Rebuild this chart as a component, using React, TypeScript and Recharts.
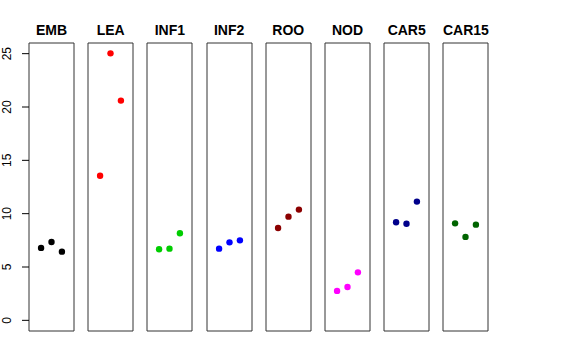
import { ScatterChart, Scatter, XAxis, YAxis, ReferenceArea } from "recharts";

const groups = ["EMB", "LEA", "INF1", "INF2", "ROO", "NOD", "CAR5", "CAR15"];
const colors = ["#000000", "#FF0000", "#00CD00", "#0000FF", "#8B0000", "#FF00FF", "#00008B", "#006400"];

const emb = [6.79, 7.35, 6.44];
const lea = [13.56, 25.03, 20.6];
const inf1 = [6.66, 6.72, 8.16];
const inf2 = [6.72, 7.31, 7.5];
const roo = [8.66, 9.72, 10.38];
const nod = [2.76, 3.13, 4.5];
const car5 = [9.19, 9.06, 11.13];
const car15 = [9.09, 7.82, 8.97];

const values = [emb, lea, inf1, inf2, roo, nod, car5, car15];
const yTicks = [0, 5, 10, 15, 20, 25];

const X_DOMAIN: [number, number] = [-0.16, 4.16];
const Y_DOMAIN: [number, number] = [-1, 26];
const PANEL_W = 45;
const AXIS_W = 29;
const STEP = 59.2;
const FONT = "'Liberation Sans', Arial, Helvetica, sans-serif";

function YTick(props: any) {
  const { y, payload } = props;
  return (
    <text
      x={12}
      y={y}
      transform={`rotate(-90, 12, ${y})`}
      textAnchor="middle"
      fontSize={12}
      fontFamily={FONT}
      fill="#000"
    >
      {payload.value}
    </text>
  );
}

function Panel({ idx }: { idx: number }) {
  const first = idx === 0;
  const data = values[idx].map((v, i) => ({ x: i + 1, y: v }));
  const left = first ? -1 : AXIS_W - 1 + idx * STEP;
  const width = PANEL_W + 2 + (first ? AXIS_W : 0);
  return (
    <div style={{ position: "absolute", left, top: 42 }}>
      <ScatterChart width={width} height={290} margin={{ top: 1, right: 1, bottom: 1, left: 1 }}>
        <XAxis type="number" dataKey="x" domain={X_DOMAIN} hide allowDataOverflow />
        <YAxis
          type="number"
          dataKey="y"
          domain={Y_DOMAIN}
          ticks={yTicks}
          hide={!first}
          width={AXIS_W}
          axisLine={false}
          tickSize={7}
          tickLine={{ stroke: "#000" }}
          tick={<YTick />}
          allowDataOverflow
        />
        <ReferenceArea
          x1={X_DOMAIN[0]}
          x2={X_DOMAIN[1]}
          y1={Y_DOMAIN[0]}
          y2={Y_DOMAIN[1]}
          fill="none"
          stroke="#333"
          strokeWidth={1}
          fillOpacity={0}
          ifOverflow="visible"
        />
        <Scatter
          data={data}
          isAnimationActive={false}
          shape={(p: any) => <circle cx={p.cx} cy={p.cy} r={3.2} fill={colors[idx]} />}
        />
      </ScatterChart>
    </div>
  );
}

export default function App() {
  return (
    <div style={{ position: "absolute", left: 0, top: 0, width: 576, height: 360, background: "#fff" }}>
      {groups.map((g, i) => (
        <div
          key={g}
          style={{
            position: "absolute",
            left: AXIS_W + i * STEP - 10,
            width: PANEL_W + 20,
            top: 21,
            textAlign: "center",
            fontFamily: FONT,
            fontWeight: "bold",
            fontSize: 14,
            lineHeight: "18px",
          }}
        >
          {g}
        </div>
      ))}
      {groups.map((g, i) => (
        <Panel key={g} idx={i} />
      ))}
    </div>
  );
}
